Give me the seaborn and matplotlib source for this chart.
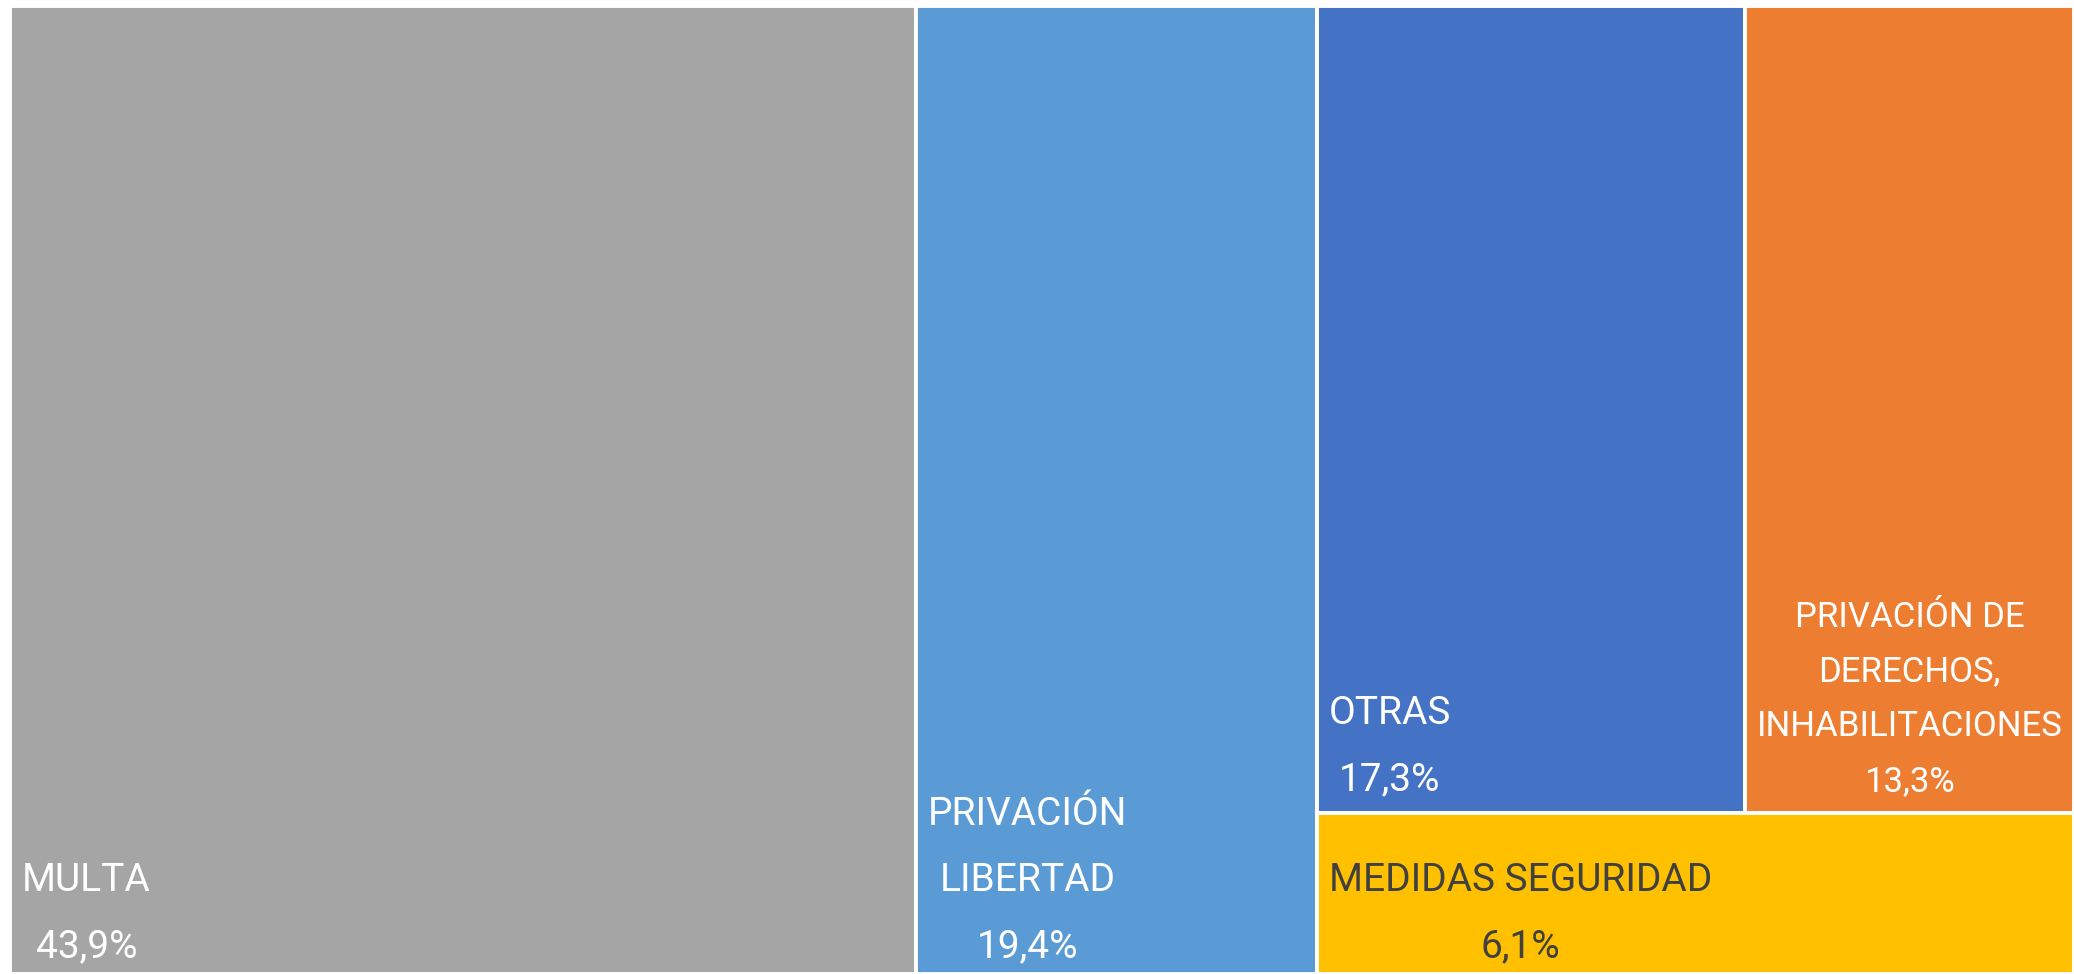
import matplotlib
matplotlib.use("Agg")
import matplotlib.pyplot as plt
import seaborn as sns

# data (percent of total)
labels = ["MULTA", "PRIVACIÓN\nLIBERTAD", "OTRAS",
          "PRIVACIÓN DE\nDERECHOS,\nINHABILITACIONES", "MEDIDAS SEGURIDAD"]
values = [43.9, 19.4, 17.3, 13.3, 6.1]
value_text = ["43,9%", "19,4%", "17,3%", "13,3%", "6,1%"]
colors = ["#A5A5A5", "#5B9BD5", "#4472C4", "#ED7D31", "#FFC000"]
text_colors = ["white", "white", "white", "white", "#404040"]

sns.set_theme(style="white")
plt.rcParams["font.family"] = ["Roboto", "DejaVu Sans"]

W, H = 2064.0, 968.0
total = sum(values)

# layout: two full-height columns, then a block with a top row (2 items)
# and one bottom row
rects = []
x = 0.0
for v in values[:2]:
    w = v / total * W
    rects.append((x, 0.0, w, H))
    x += w
rest_w = W - x
rest = sum(values[2:])
top_h = sum(values[2:4]) / rest * H
xx = x
for v in values[2:4]:
    w = v / sum(values[2:4]) * rest_w
    rects.append((xx, H - top_h, w, top_h))
    xx += w
rects.append((x, 0.0, rest_w, H - top_h))

fig = plt.figure(figsize=(20.74, 9.74), dpi=100)
ax = fig.add_axes([10 / 2074, 0, W / 2074, H / 974])
ax.set_xlim(0, W)
ax.set_ylim(0, H)
ax.axis("off")

for i, (x0, y0, w, h) in enumerate(rects):
    ax.bar(x0, h, width=w, bottom=y0, align="edge", color=colors[i],
           edgecolor="white", linewidth=2.8)
    size = 25 if i == 3 else 28
    ls = 1.84 if i == 3 else 2.0
    dy = 9 if y0 == 0 else 15
    ax.annotate(labels[i] + "\n" + value_text[i], xy=(x0, y0),
                xytext=(12, dy), textcoords="offset pixels",
                ha="left", va="bottom", multialignment="center",
                fontsize=size, color=text_colors[i], linespacing=ls)

fig.savefig("out.png", dpi=100)
